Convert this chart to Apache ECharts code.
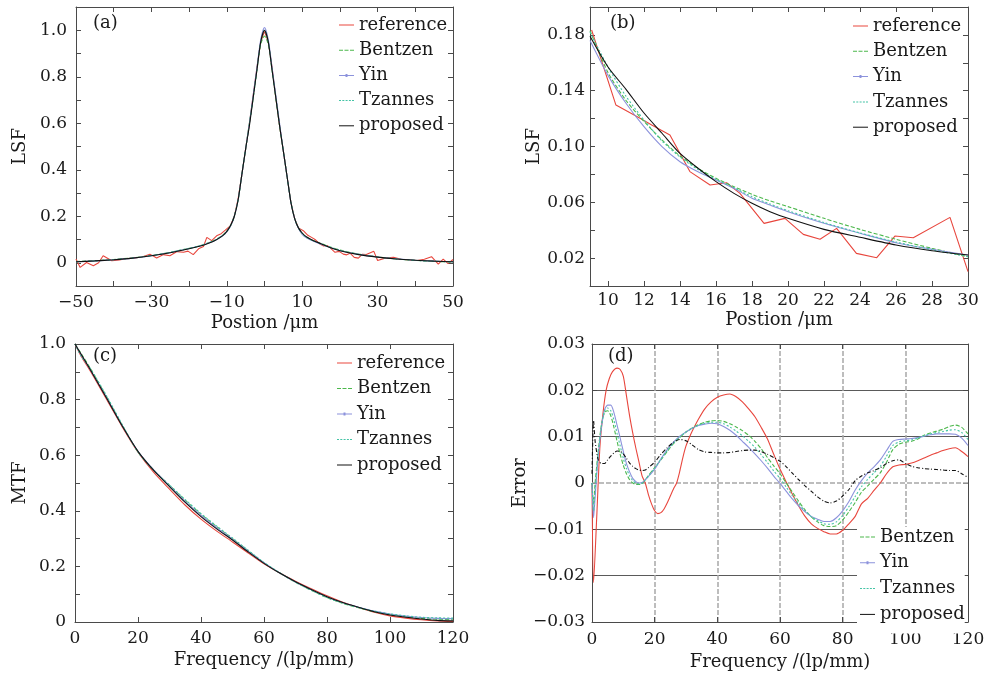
<!DOCTYPE html>
<html><head><meta charset="utf-8">
<script src="https://cdn.jsdelivr.net/npm/echarts@6/dist/echarts.min.js"></script>
<style>html,body{margin:0;padding:0;background:#fff}#c{width:993px;height:676px}</style>
</head><body><div id="c"></div>
<script>
// ---------- Panel (a): LSF ----------
const aX = [-50,-45,-40,-35,-30,-25,-20,-17,-15,-13,-11,-10,-9,-8,-7,-6,-5,-4,-3,-2,-1,0,1,2,3,4,5,6,7,8,9,10,11,13,15,17,20,25,30,35,40,45,50];
const aProposed = [0.004,0.008,0.013,0.02,0.03,0.043,0.06,0.072,0.083,0.097,0.118,0.135,0.16,0.2,0.27,0.38,0.49,0.59,0.71,0.83,0.95,1.0,0.95,0.83,0.71,0.59,0.48,0.37,0.26,0.19,0.15,0.128,0.113,0.095,0.082,0.068,0.052,0.035,0.024,0.016,0.011,0.007,0.004];
const aBentzen  = [0.005,0.009,0.014,0.021,0.031,0.045,0.062,0.074,0.085,0.099,0.12,0.136,0.16,0.2,0.27,0.38,0.49,0.6,0.71,0.83,0.94,0.975,0.94,0.83,0.71,0.59,0.48,0.37,0.26,0.19,0.15,0.126,0.111,0.095,0.083,0.07,0.055,0.037,0.025,0.016,0.01,0.006,0.003];
const aYin      = [0.004,0.008,0.013,0.02,0.03,0.044,0.061,0.073,0.084,0.097,0.117,0.133,0.158,0.2,0.27,0.38,0.49,0.6,0.72,0.84,0.96,1.012,0.96,0.84,0.72,0.6,0.48,0.37,0.26,0.19,0.148,0.122,0.108,0.092,0.08,0.068,0.053,0.036,0.025,0.017,0.011,0.007,0.004];
const aTzannes  = [0.004,0.008,0.013,0.02,0.031,0.045,0.062,0.074,0.085,0.098,0.118,0.134,0.159,0.2,0.27,0.38,0.49,0.6,0.71,0.83,0.95,1.0,0.95,0.83,0.71,0.59,0.48,0.37,0.26,0.19,0.15,0.125,0.11,0.094,0.082,0.069,0.054,0.036,0.025,0.016,0.01,0.006,0.003];
const aRefX = [-50,-48.9,-47.2,-45.4,-44,-42.8,-40.5,-38.5,-36.5,-34.8,-32.5,-30.4,-28.6,-26.8,-25.1,-23.2,-21.5,-20.3,-18.9,-17.5,-16.2,-15.3,-14,-12.7,-11.5,-10.4,-9,-8,-7,-6,-5,-4,-3,-2,-1,0,1,2,3,4,5,6,7,8,9,10.3,11.5,12.6,13.4,14.6,15.7,16.6,17.3,18.7,19.8,20.9,21.8,22.7,23.8,24.9,25.9,27,29,30,32,34.2,36.3,38.4,40.5,42.4,44.3,46.1,47.4,48.7,50];
const aRef  = [0.016,-0.02,0.001,-0.013,0.0,0.03,0.009,0.012,0.018,0.02,0.025,0.037,0.02,0.035,0.03,0.048,0.045,0.05,0.035,0.06,0.07,0.109,0.095,0.116,0.125,0.14,0.16,0.2,0.275,0.38,0.49,0.6,0.72,0.84,0.95,0.995,0.95,0.84,0.71,0.59,0.48,0.37,0.26,0.19,0.15,0.138,0.118,0.108,0.1,0.082,0.072,0.074,0.066,0.045,0.049,0.037,0.034,0.041,0.023,0.02,0.036,0.035,0.049,0.01,0.02,0.023,0.015,0.012,0.01,0.015,0.026,-0.006,0.016,-0.004,0.014];
const aXTicks = [-50,-30,-10,10,30,50];

// ---------- Panel (b): LSF tail ----------
const bX = [9,10,11,12,13,14,15,16,17,18,19,20,22,24,26,28,30];
const bProposed = [0.179,0.157,0.141,0.124,0.1095,0.095,0.0844,0.0748,0.0664,0.0593,0.0533,0.0485,0.0406,0.0349,0.0294,0.0253,0.0222];
const bBentzen  = [0.183,0.153,0.133,0.118,0.1047,0.0932,0.0844,0.0772,0.0712,0.0657,0.061,0.0569,0.0485,0.0406,0.0335,0.027,0.021];
const bYin      = [0.176,0.151,0.131,0.1142,0.0999,0.0891,0.0819,0.076,0.07,0.0629,0.058,0.0533,0.045,0.0378,0.031,0.0263,0.0222];
const bTzannes  = [0.182,0.157,0.136,0.119,0.104,0.0925,0.0835,0.0765,0.0705,0.064,0.0588,0.054,0.0455,0.038,0.0315,0.026,0.021];
const bRefX = [9.09,10.44,11.78,12.43,13.44,14.55,15.67,16.59,17.33,18.67,19.83,20.85,21.78,22.7,23.8,24.93,25.94,26.96,29.0,30.0];
const bRef  = [0.1835,0.1297,0.1202,0.1154,0.1082,0.082,0.0724,0.074,0.0664,0.0449,0.0485,0.037,0.0335,0.0413,0.0234,0.0203,0.0358,0.0346,0.0492,0.0103];
const bXTicks = [10,12,14,16,18,20,22,24,26,28,30];

// ---------- Panel (c): MTF ----------
const cX = [0,2,5,10,15,20,25,30,35,40,45,50,55,60,65,70,75,80,85,90,95,100,105,110,115,120];
const cProposed = [1.0,0.962,0.905,0.806,0.705,0.614,0.545,0.487,0.43,0.379,0.335,0.295,0.252,0.211,0.176,0.145,0.117,0.091,0.07,0.053,0.037,0.025,0.017,0.011,0.006,0.004];
const cRef      = [1.0,0.955,0.9,0.801,0.702,0.611,0.538,0.478,0.42,0.37,0.327,0.288,0.248,0.209,0.176,0.147,0.12,0.094,0.071,0.052,0.035,0.022,0.014,0.008,0.004,0.002];
const cBentzen  = [1.0,0.965,0.91,0.811,0.708,0.612,0.546,0.492,0.438,0.388,0.343,0.3,0.256,0.213,0.176,0.143,0.114,0.088,0.067,0.051,0.037,0.027,0.019,0.013,0.01,0.008];
const cYin      = [1.0,0.96,0.905,0.808,0.706,0.614,0.547,0.49,0.434,0.384,0.339,0.298,0.255,0.213,0.176,0.144,0.116,0.09,0.069,0.053,0.039,0.029,0.021,0.016,0.013,0.012];
const cTzannes  = [1.0,0.955,0.91,0.814,0.71,0.611,0.545,0.493,0.44,0.39,0.345,0.302,0.258,0.214,0.177,0.143,0.114,0.088,0.068,0.052,0.039,0.029,0.022,0.017,0.015,0.014];

// ---------- Panel (d): Error ----------
const dX = [0,0.5,1,2,3,4,5,6,7,8,9,10,11,12,13,14,15,16,17,18,20,22,24,26,28,30,32,34,36,38,40,42,44,46,48,50,52,54,56,58,60,62,64,66,68,70,72,74,76,78,80,82,84,86,88,90,92,94,96,98,100,102,104,106,108,110,112,114,116,118,120];
const dBentzen = [0,-0.0045,0,0.007,0.0125,0.0152,0.0156,0.0145,0.012,0.009,0.0062,0.0038,0.002,0.0007,0,-0.0003,-0.0003,-0.0001,0.0007,0.0016,0.0033,0.005,0.0068,0.0085,0.0098,0.011,0.0119,0.0126,0.0131,0.0134,0.0135,0.0133,0.0128,0.0121,0.0113,0.0103,0.009,0.0074,0.0055,0.0037,0.002,0,-0.002,-0.004,-0.0058,-0.0073,-0.0084,-0.0092,-0.0094,-0.0092,-0.008,-0.0062,-0.0042,-0.002,-0.0006,0.0008,0.0022,0.0045,0.0072,0.0084,0.0088,0.009,0.0095,0.0103,0.0108,0.0112,0.0116,0.0122,0.0125,0.012,0.0106];
const dYin = [0,-0.0075,-0.003,0.006,0.012,0.0158,0.0168,0.0168,0.0152,0.0125,0.0097,0.0068,0.0042,0.0024,0.001,0.0003,0,0.0001,0.0007,0.0014,0.003,0.0052,0.0072,0.0088,0.0101,0.011,0.0118,0.0124,0.0127,0.0129,0.0128,0.0122,0.0114,0.0103,0.009,0.0077,0.0063,0.0048,0.0032,0.0015,-0.0001,-0.0018,-0.0035,-0.005,-0.0062,-0.0072,-0.0078,-0.0083,-0.0083,-0.0075,-0.006,-0.004,-0.0015,0.0005,0.0022,0.0035,0.005,0.007,0.009,0.0094,0.0095,0.0096,0.0098,0.0101,0.0104,0.0106,0.0106,0.0106,0.0105,0.0097,0.0081];
const dTzannes = [0,-0.006,-0.0015,0.0065,0.0122,0.0155,0.0162,0.0156,0.0136,0.0107,0.008,0.0053,0.0031,0.0016,0.0005,0,-0.0002,0,0.0007,0.0015,0.0032,0.0051,0.007,0.0086,0.0099,0.011,0.0118,0.0125,0.0129,0.0131,0.0131,0.0128,0.0121,0.0112,0.0102,0.009,0.0077,0.0061,0.0044,0.0026,0.001,-0.0009,-0.0028,-0.0045,-0.006,-0.0073,-0.0081,-0.0088,-0.0089,-0.0084,-0.007,-0.0051,-0.0029,-0.0008,0.0008,0.0022,0.0036,0.0058,0.0081,0.0089,0.0091,0.0093,0.0097,0.0102,0.0106,0.0109,0.0111,0.0114,0.0115,0.0109,0.0094];
const dProposed = [0.002,0.0135,0.009,0.005,0.0042,0.0042,0.005,0.0058,0.0065,0.0069,0.0068,0.0063,0.0053,0.0043,0.0036,0.0031,0.0028,0.0027,0.0028,0.0033,0.0045,0.0062,0.0076,0.0088,0.0094,0.0091,0.0082,0.0072,0.0067,0.0066,0.0065,0.0065,0.0066,0.0068,0.007,0.0071,0.0071,0.0068,0.0062,0.0055,0.0047,0.0035,0.0021,0.0007,-0.0006,-0.0018,-0.003,-0.0039,-0.0043,-0.0039,-0.0028,-0.0014,0.0005,0.0015,0.0022,0.0027,0.0033,0.0042,0.0048,0.005,0.0042,0.0036,0.0033,0.0031,0.003,0.0029,0.0028,0.0027,0.0027,0.002,0.0012];
const dRefX = [0,0.5,1.5,2.5,3.5,4.5,5.5,6.5,8,9,10,11,12,13,14,15,16,17,18,19,20,21,22,23,24,25,26,27,28,29,30,31,32,34,36,38,40,42,44,46,48,50,52,54,56,58,60,62,64,66,68,70,72,74,76,78,80,82,84,86,88,90,92,94,96,98,100,102,104,106,108,110,112,114,116,118,120];
const dRef  = [0,-0.0215,-0.0075,0.0075,0.015,0.02,0.0225,0.024,0.0248,0.0245,0.023,0.0188,0.0145,0.0108,0.0075,0.0045,0.0015,0,-0.0025,-0.0045,-0.006,-0.0066,-0.0064,-0.0056,-0.0043,-0.0028,-0.0013,0,0.0025,0.0055,0.008,0.0097,0.0112,0.0138,0.016,0.0175,0.0185,0.019,0.0192,0.0186,0.0175,0.016,0.0143,0.012,0.0095,0.0062,0.003,0.0002,-0.0025,-0.005,-0.0072,-0.0088,-0.0098,-0.0105,-0.011,-0.011,-0.0102,-0.0088,-0.0072,-0.0045,-0.0033,-0.0016,0,0.002,0.0035,0.0039,0.004,0.0043,0.0048,0.0054,0.006,0.0065,0.007,0.0074,0.0076,0.0068,0.0057];

const seriesNames = ['reference','Bentzen','Yin','Tzannes','proposed'];

// ---------- styling ----------
const FONT = 'DejaVu Serif';
const AX = '#4a4a4a', TXT = '#1a1a1a';
const COL = {reference:'#e8463d', Bentzen:'#4cb84c', Yin:'#8c92dc', Tzannes:'#45c4a6', proposed:'#111111'};
const DASH = {reference:'solid', Bentzen:[4,2], Yin:'solid', Tzannes:[2,2], proposed:'solid'};
const ICON = {
  reference:'path://M0,0h15v1h-15z',
  Bentzen:'path://M0,0h4v1h-4zM5.5,0h4v1h-4zM11,0h4v1h-4z',
  Yin:'path://M0,1h15v1h-15zM6.5,0h2v3h-2z',
  Tzannes:'path://M0,0h2v1h-2zM3.3,0h2v1h-2zM6.6,0h2v1h-2zM9.9,0h2v1h-2zM13,0h2v1h-2z',
  proposed:'path://M0,0h15v1h-15z'
};
const minus = s => s.replace('-', '\u2212');

const grids = [
  {left:76, top:7, width:377, height:279},
  {left:590, top:7, width:378, height:279},
  {left:75, top:344, width:378, height:278},
  {left:592, top:344, width:376, height:278}
];

const xAxes = [], yAxes = [];
function addAxes(gi, xc, yc) {
  const tick = (cv) => ({inside:true, length:5, lineStyle:{color:AX, width:1}, customValues:cv});
  const line = {onZero:false, lineStyle:{color:AX, width:1}};
  const lbl = (fmt, margin, cv) => ({fontFamily:FONT, fontSize:17, color:TXT, margin:margin, formatter:fmt, customValues:cv, showMinLabel:true, showMaxLabel:true, hideOverlap:false});
  xAxes.push({type:'value', gridIndex:gi, position:'bottom', min:xc.min, max:xc.max, interval:xc.interval,
    axisLine:line, axisTick:tick(xc.ticks), axisLabel:lbl(xc.fmt, xc.margin, xc.ticks),
    splitLine: xc.split || {show:false},
    name:xc.name, nameLocation:'middle', nameGap:xc.nameGap, nameTextStyle:{fontFamily:FONT, fontSize:18, color:TXT}});
  xAxes.push({type:'value', gridIndex:gi, position:'top', min:xc.min, max:xc.max, interval:xc.interval,
    axisLine:line, axisTick:tick(xc.ticks), axisLabel:{show:false}, splitLine:{show:false}});
  yAxes.push({type:'value', gridIndex:gi, position:'left', min:yc.min, max:yc.max, interval:yc.interval,
    axisLine:line, axisTick:tick(), axisLabel:lbl(yc.fmt, yc.margin),
    splitLine: yc.split || {show:false},
    name:yc.name, nameLocation:'middle', nameGap:yc.nameGap, nameTextStyle:{fontFamily:FONT, fontSize:18, color:TXT}});
  yAxes.push({type:'value', gridIndex:gi, position:'right', min:yc.min, max:yc.max, interval:yc.interval,
    axisLine:line, axisTick:tick(), axisLabel:{show:false}, splitLine:{show:false}});
}

const fmtTenths = v => { const k = Math.round(v*10); if (k < 0 || k > 10 || k % 2) return ''; return k === 0 ? '0' : (k/10).toFixed(1); };

addAxes(0,
  {min:-50, max:50, interval:10, margin:8, name:'Postion /\u03bcm', nameGap:28,
   fmt: v => aXTicks.indexOf(Math.round(v)) >= 0 ? minus(String(Math.round(v))) : ''},
  {min:-0.1, max:1.1, interval:0.1, margin:9, name:'LSF', nameGap:47, fmt: fmtTenths});
addAxes(1,
  {min:9, max:30, ticks:bXTicks, margin:6, name:'Postion /\u03bcm', nameGap:25, fmt: v => String(Math.round(v))},
  {min:0, max:0.2, interval:0.02, margin:5, name:'LSF', nameGap:47,
   fmt: v => { const k = Math.round(v*100); return (k % 4 === 2) ? (k/100).toFixed(2) : ''; }});
addAxes(2,
  {min:0, max:120, interval:20, margin:8, name:'Frequency /(lp/mm)', nameGap:29, fmt: v => String(Math.round(v))},
  {min:0, max:1, interval:0.1, margin:9, name:'MTF', nameGap:46, fmt: fmtTenths});
addAxes(3,
  {min:0, max:120, interval:20, margin:9, name:'Frequency /(lp/mm)', nameGap:31, fmt: v => String(Math.round(v)),
   split:{show:true, showMinLine:false, showMaxLine:false, lineStyle:{color:'#a8a8a8', width:1.5, type:[5,2]}}},
  {min:-0.03, max:0.03, interval:0.01, margin:7, name:'Error', nameGap:55,
   fmt: v => { const k = Math.round(v*100); return k === 0 ? '0' : (k < 0 ? '\u22120.0' + (-k) : '0.0' + k); },
   split:{show:true, showMinLine:false, showMaxLine:false, lineStyle:{color:['#5a5a5a','#5a5a5a','rgba(0,0,0,0)','#5a5a5a','#5a5a5a','#5a5a5a'], width:1}}});

const pairs = (xs, ys) => xs.map((x, i) => [x, ys[i]]);
const series = [];
function addSeries(gi, name, xs, ys, opts) {
  series.push(Object.assign({
    type:'line', name:name, xAxisIndex:2*gi, yAxisIndex:2*gi, data:pairs(xs, ys),
    symbol:'none', showSymbol:false, smooth:0.25, clip:true, animation:false,
    lineStyle:{color:COL[name], width:1.1, type:DASH[name]}, itemStyle:{color:COL[name]}
  }, opts || {}));
}
addSeries(0,'reference',aRefX,aRef,{smooth:false});
addSeries(0,'Bentzen',aX,aBentzen);
addSeries(0,'Yin',aX,aYin);
addSeries(0,'Tzannes',aX,aTzannes);
addSeries(0,'proposed',aX,aProposed);

addSeries(1,'reference',bRefX,bRef,{smooth:false});
addSeries(1,'Bentzen',bX,bBentzen);
addSeries(1,'Yin',bX,bYin);
addSeries(1,'Tzannes',bX,bTzannes);
addSeries(1,'proposed',bX,bProposed);

addSeries(2,'reference',cX,cRef);
addSeries(2,'Bentzen',cX,cBentzen);
addSeries(2,'Yin',cX,cYin);
addSeries(2,'Tzannes',cX,cTzannes);
addSeries(2,'proposed',cX,cProposed);

addSeries(3,'reference',dRefX,dRef,{
  markLine:{silent:true, symbol:'none', label:{show:false}, animation:false,
    lineStyle:{color:'#a8a8a8', width:1.5, type:[5,2]}, data:[{yAxis:0}], z:1}});
addSeries(3,'Bentzen',dX,dBentzen);
addSeries(3,'Yin',dX,dYin);
addSeries(3,'Tzannes',dX,dTzannes);
addSeries(3,'proposed',dX,dProposed,{lineStyle:{color:COL.proposed, width:1.1, type:[4,2,1,2]}});

const legendItems = names => names.map(n => ({name:n, icon:ICON[n], itemStyle:{color:COL[n]}}));
const legendBase = {orient:'vertical', itemWidth:15, itemHeight:14, padding:0, selectedMode:false, symbolKeepAspect:true,
  textStyle:{fontFamily:FONT, fontSize:18, color:TXT}};
const legends = [
  Object.assign({}, legendBase, {left:339, top:16, itemGap:7.2, data:legendItems(seriesNames)}),
  Object.assign({}, legendBase, {left:853, top:17, itemGap:7.3, data:legendItems(seriesNames)}),
  Object.assign({}, legendBase, {left:337, top:354, itemGap:7.5, data:legendItems(seriesNames)}),
  Object.assign({}, legendBase, {left:857, top:527, itemGap:7.8, padding:[1,0,10,3], backgroundColor:'#fff', data:legendItems(seriesNames.slice(1))})
];

const panelLabels = [['(a)',93,14],['(b)',610,14],['(c)',93,347],['(d)',608,347]];

const chart = echarts.init(document.getElementById('c'), null, {renderer:'canvas'});
chart.setOption({
  backgroundColor:'#fff',
  animation:false,
  grid: grids,
  xAxis: xAxes,
  yAxis: yAxes,
  legend: legends,
  series: series,
  graphic: panelLabels.map(p => ({type:'text', left:p[1], top:p[2], z:10,
    style:{text:p[0], fontFamily:FONT, fontSize:18, fill:TXT}}))
});
</script></body></html>
